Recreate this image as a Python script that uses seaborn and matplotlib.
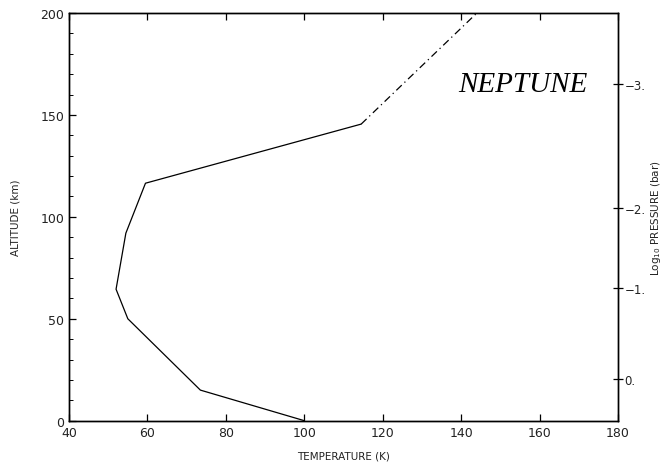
import matplotlib
matplotlib.use("Agg")
import matplotlib.pyplot as plt
from matplotlib.ticker import MultipleLocator
import seaborn as sns
import pandas as pd

# Neptune temperature profile (solid) and its upper extrapolation (dash-dot)
temperature = [100, 73.5, 55, 52, 54.5, 59.5, 114.5]
altitude = [0, 15, 50, 64.5, 92, 116.5, 145.5]
ext_temperature = [114.5, 144.0]
ext_altitude = [145.5, 200]

# Pressure scale on the right: altitude of each log10 pressure level (bar)
pressure_alt = [20.5, 65.0, 104.5, 165.0]
pressure_labels = ["0.", "\u22121.", "\u22122.", "\u22123."]

x_ticks = [40, 60, 80, 100, 120, 140, 160, 180]
y_ticks = [0, 50, 100, 150, 200]

sns.set_theme(style="ticks")
plt.rcParams["font.family"] = ["DejaVu Sans"]

fig = plt.figure(figsize=(6.66, 4.64), dpi=100)
ax = fig.add_axes([0.1036, 0.0912, 0.8244, 0.8786])

profile = pd.DataFrame({"T": temperature, "z": altitude})
extension = pd.DataFrame({"T": ext_temperature, "z": ext_altitude})
sns.lineplot(data=profile, x="T", y="z", sort=False, color="black",
             linewidth=0.9, ax=ax)
sns.lineplot(data=extension, x="T", y="z", sort=False, color="black",
             linewidth=0.9, linestyle=(0, (6, 3, 1, 3)), ax=ax)

ax.set_xlim(40, 180)
ax.set_ylim(0, 200)
ax.set_xticks(x_ticks)
ax.set_yticks(y_ticks)
ax.yaxis.set_minor_locator(MultipleLocator(10))
ax.tick_params(axis="both", which="major", direction="in", length=5,
               width=0.9, color="black", labelsize=9, labelcolor="#222222",
               top=True, right=False)
ax.tick_params(axis="y", which="minor", direction="in", length=3,
               width=0.7, color="black", right=False)
for s in ax.spines.values():
    s.set_color("black")
    s.set_linewidth(1.0)

ax.set_xlabel("TEMPERATURE (K)", fontsize=7.5, color="#222222")
ax.set_ylabel("ALTITUDE (km)", fontsize=7.5, color="#222222")
ax.xaxis.set_label_coords(0.5, -0.074)
ax.yaxis.set_label_coords(-0.088, 0.5)

ax2 = ax.twinx()
ax2.set_ylim(0, 200)
ax2.set_yticks(pressure_alt)
ax2.set_yticklabels(pressure_labels)
ax2.tick_params(axis="y", direction="inout", length=7, width=0.9,
                color="black", labelsize=8.5, labelcolor="#222222", pad=1)
ax2.set_ylabel("Log$_{10}$ PRESSURE (bar)", fontsize=7.5, color="#222222")
ax2.yaxis.set_label_coords(1.056, 0.5)
for s in ax2.spines.values():
    s.set_color("black")
    s.set_linewidth(1.0)

ax.text(155.8, 165, "NEPTUNE", family="Liberation Serif", style="italic",
        fontsize=21, ha="center", va="center", color="black")

fig.savefig("out.png", dpi=100)
